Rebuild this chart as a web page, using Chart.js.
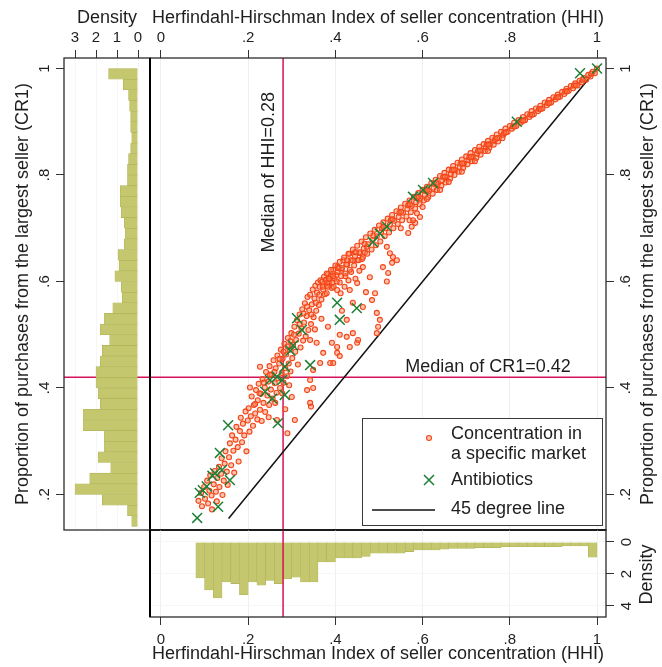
<!DOCTYPE html>
<html>
<head>
<meta charset="utf-8">
<script src="https://cdn.jsdelivr.net/npm/chart.js@4.4.1/dist/chart.umd.min.js"></script>
<style>
  html, body { margin: 0; padding: 0; background: #fff; }
  #wrap { position: relative; width: 662px; height: 667px; overflow: hidden; }
  canvas { position: absolute; }
  #side { left: 0; top: 0; }
  #main { left: 140px; top: 0; }
  #bottom { left: 140px; top: 525px; }
</style>
</head>
<body>
<div id="wrap">
  <canvas id="side" width="152" height="535"></canvas>
  <canvas id="main" width="522" height="535"></canvas>
  <canvas id="bottom" width="522" height="142"></canvas>
</div>
<script>
/* ===== DATA ===== */
const hhiTicks = [0, 0.2, 0.4, 0.6, 0.8, 1];
const hhiTickLabels = ["0", ".2", ".4", ".6", ".8", "1"];
const cr1Ticks = [0.2, 0.4, 0.6, 0.8, 1];
const cr1TickLabels = [".2", ".4", ".6", ".8", "1"];
const sideDensityTicks = [0, 1, 2, 3];
const sideDensityLabels = ["0", "1", "2", "3"];
const bottomDensityTicks = [0, 2, 4];
const bottomDensityLabels = ["0", "2", "4"];

const medianHHI = 0.28;
const medianCR1 = 0.42;
const diagonalFrom = 0.155;
const diagonalTo = 1;

// CR1 histogram (bin midpoints, density)
const cr1Bins = [0.15, 0.17, 0.19, 0.21, 0.23, 0.25, 0.27, 0.29, 0.31, 0.33, 0.35, 0.37, 0.39, 0.41,
  0.43, 0.45, 0.47, 0.49, 0.51, 0.53, 0.55, 0.57, 0.59, 0.61, 0.63, 0.65, 0.67, 0.69, 0.71, 0.73,
  0.75, 0.77, 0.79, 0.81, 0.83, 0.85, 0.87, 0.89, 0.91, 0.93, 0.95, 0.97, 0.99];
const cr1Density = [0.3, 0.5, 1.7, 3.0, 2.3, 1.3, 1.9, 1.6, 1.6, 2.6, 2.6, 1.8, 1.9, 2.0,
  2.0, 1.8, 1.7, 1.35, 1.8, 1.6, 1.2, 0.75, 0.8, 1.1, 0.9, 0.95, 0.65, 0.6, 0.65, 0.8,
  0.85, 0.85, 0.5, 0.5, 0.45, 0.35, 0.3, 0.35, 0.35, 0.4, 0.45, 0.7, 1.4];

// HHI histogram (bin midpoints, density)
const hhiBins = [0.09, 0.11, 0.13, 0.15, 0.17, 0.19, 0.21, 0.23, 0.25, 0.27, 0.29, 0.31, 0.33, 0.35,
  0.37, 0.39, 0.41, 0.43, 0.45, 0.47, 0.49, 0.51, 0.53, 0.55, 0.57, 0.59, 0.61, 0.63, 0.65, 0.67,
  0.69, 0.71, 0.73, 0.75, 0.77, 0.79, 0.81, 0.83, 0.85, 0.87, 0.89, 0.91, 0.93, 0.95, 0.97, 0.99];
const hhiDensity = [2.25, 3.0, 3.5, 2.5, 2.6, 3.3, 2.5, 2.7, 2.4, 2.6, 2.3, 2.2, 2.5, 2.5,
  1.25, 1.25, 1.0, 1.0, 1.0, 0.9, 0.7, 0.7, 0.7, 0.7, 0.6, 0.5, 0.5, 0.5, 0.45, 0.4,
  0.4, 0.4, 0.35, 0.35, 0.35, 0.3, 0.3, 0.3, 0.3, 0.3, 0.3, 0.3, 0.25, 0.25, 0.25, 0.95];

// markets: [HHI, CR1]
const marketPoints = [
  [0.086,0.188],[0.092,0.203],[0.094,0.178],[0.099,0.214],[0.101,0.192],[0.106,0.226],[0.108,0.183],[0.111,0.207],
  [0.113,0.236],[0.116,0.198],[0.117,0.172],[0.121,0.219],[0.123,0.244],[0.126,0.205],[0.128,0.187],[0.129,0.231],
  [0.133,0.252],[0.134,0.214],[0.138,0.239],[0.139,0.268],[0.141,0.199],[0.144,0.226],[0.146,0.258],[0.148,0.281],
  [0.151,0.243],[0.153,0.218],[0.156,0.27],[0.158,0.296],[0.161,0.255],[0.163,0.311],[0.166,0.282],[0.168,0.241],
  [0.171,0.303],[0.173,0.327],[0.176,0.289],[0.178,0.262],[0.181,0.319],[0.183,0.344],[0.186,0.298],[0.188,0.333],
  [0.191,0.311],[0.194,0.356],[0.196,0.281],[0.199,0.339],
  [0.201,0.362],[0.203,0.318],[0.206,0.347],[0.208,0.384],[0.211,0.329],[0.213,0.368],[0.216,0.352],[0.218,0.396],
  [0.221,0.341],[0.222,0.377],[0.224,0.408],[0.227,0.359],[0.229,0.389],[0.231,0.338],[0.233,0.417],[0.235,0.372],
  [0.238,0.401],[0.239,0.355],[0.241,0.43],[0.244,0.386],[0.246,0.412],[0.248,0.368],[0.249,0.441],[0.252,0.397],
  [0.254,0.425],[0.256,0.38],[0.258,0.452],[0.261,0.409],[0.263,0.437],[0.265,0.391],[0.267,0.461],[0.269,0.418],
  [0.271,0.446],[0.273,0.4],[0.275,0.472],[0.277,0.428],[0.279,0.455],[0.281,0.41],[0.283,0.483],[0.285,0.437],
  [0.287,0.463],[0.289,0.422],[0.291,0.494],[0.293,0.446],[0.295,0.472],[0.297,0.431],[0.299,0.503],
  [0.204,0.401],[0.227,0.44],[0.266,0.34],[0.29,0.315],[0.307,0.34],[0.285,0.36],[0.3,0.383],[0.262,0.372],
  [0.247,0.345],[0.278,0.39],[0.294,0.405],
  [0.301,0.456],[0.303,0.481],[0.306,0.515],[0.308,0.468],[0.31,0.49],[0.312,0.527],[0.314,0.444],[0.316,0.502],
  [0.318,0.538],[0.32,0.476],[0.322,0.512],[0.324,0.548],[0.326,0.489],[0.328,0.523],[0.33,0.559],[0.332,0.497],
  [0.334,0.535],[0.336,0.571],[0.338,0.509],[0.34,0.546],[0.342,0.575],[0.344,0.52],[0.346,0.557],[0.348,0.585],
  [0.35,0.533],[0.352,0.568],[0.354,0.592],[0.356,0.545],[0.358,0.579],[0.36,0.598],[0.362,0.556],[0.364,0.59],
  [0.366,0.602],[0.368,0.566],[0.37,0.6],[0.372,0.585],[0.374,0.609],[0.376,0.576],[0.378,0.603],[0.38,0.592],
  [0.383,0.614],[0.386,0.598],[0.389,0.61],[0.392,0.588],[0.395,0.622],[0.398,0.605],
  [0.318,0.52],[0.327,0.54],[0.335,0.553],[0.345,0.538],[0.355,0.56],[0.363,0.575],[0.371,0.59],[0.38,0.578],
  [0.387,0.605],[0.396,0.59],[0.305,0.5],[0.297,0.488],[0.29,0.478],[0.281,0.468],[0.272,0.455],[0.26,0.43],
  [0.25,0.425],[0.236,0.41],[0.226,0.39],[0.216,0.37],
  [0.342,0.49],[0.357,0.485],[0.372,0.466],[0.388,0.447],[0.365,0.447],[0.349,0.434],[0.342,0.415],[0.335,0.396],
  [0.349,0.4],[0.342,0.372],[0.344,0.365],[0.426,0.528],[0.433,0.477],[0.45,0.485],[0.452,0.49],[0.404,0.477],
  [0.404,0.466],[0.41,0.46],[0.395,0.447],[0.495,0.541],[0.502,0.528],[0.498,0.515],[0.495,0.503],[0.463,0.552],
  [0.484,0.565],[0.433,0.584],[0.404,0.584],[0.381,0.597],[0.45,0.597],[0.518,0.6],[0.44,0.503],[0.426,0.496],
  [0.392,0.485],[0.353,0.51],[0.368,0.53],[0.383,0.515],[0.415,0.545],[0.44,0.56],[0.47,0.58],[0.41,0.5],
  [0.518,0.665],[0.525,0.653],[0.532,0.646],[0.541,0.64],[0.53,0.635],[0.521,0.616],[0.509,0.627],[0.491,0.578],
  [0.479,0.608],[0.463,0.627],[0.45,0.64],[0.456,0.653],[0.472,0.665],[0.567,0.691],[0.575,0.703],[0.583,0.71],
  [0.594,0.721],[0.587,0.728],[0.578,0.715],
  [0.402,0.612],[0.405,0.628],[0.41,0.598],[0.414,0.622],[0.418,0.64],[0.423,0.61],[0.427,0.632],[0.432,0.652],
  [0.436,0.618],[0.44,0.64],[0.445,0.655],[0.412,0.578],[0.421,0.59],[0.43,0.602],[0.446,0.605],[0.455,0.62],
  [0.461,0.642],[0.468,0.655],
  // upper band
  [0.38,0.615],[0.385,0.605],[0.383,0.59],[0.39,0.622],[0.395,0.61],[0.393,0.598],[0.40,0.63],[0.405,0.618],
  [0.403,0.60],[0.41,0.637],[0.415,0.625],[0.413,0.61],[0.42,0.645],[0.425,0.632],[0.423,0.615],[0.43,0.652],
  [0.435,0.64],[0.433,0.622],[0.44,0.66],[0.445,0.648],[0.443,0.63],[0.45,0.667],[0.455,0.655],[0.453,0.64],
  [0.46,0.675],[0.465,0.662],[0.463,0.645],[0.47,0.683],[0.475,0.67],[0.473,0.652],[0.48,0.69],[0.485,0.678],
  [0.483,0.66],[0.49,0.697],[0.495,0.685],[0.493,0.668],[0.50,0.705],[0.505,0.693],[0.503,0.675],[0.51,0.711],
  [0.515,0.70],[0.513,0.685],[0.52,0.718],[0.525,0.707],[0.523,0.692],[0.53,0.725],[0.535,0.714],[0.533,0.70],
  [0.54,0.732],[0.545,0.721],[0.543,0.708],[0.55,0.739],[0.555,0.729],[0.553,0.715],[0.56,0.746],[0.565,0.736],
  [0.563,0.722],[0.57,0.752],[0.575,0.742],[0.573,0.73],[0.58,0.759],[0.585,0.749],[0.583,0.737],[0.59,0.766],
  [0.595,0.756],[0.593,0.745],[0.60,0.772],[0.605,0.763],[0.603,0.752],[0.61,0.778],[0.615,0.77],[0.613,0.758],
  [0.62,0.785],[0.625,0.776],[0.623,0.765],[0.63,0.791],[0.635,0.783],[0.633,0.772],[0.64,0.798],[0.645,0.79],
  [0.643,0.78],[0.65,0.804],[0.655,0.796],[0.653,0.786],[0.66,0.81],[0.665,0.802],[0.663,0.793],[0.67,0.817],
  [0.675,0.809],[0.673,0.80],[0.68,0.823],[0.685,0.815],[0.683,0.806],[0.69,0.829],[0.695,0.821],[0.693,0.813],
  [0.70,0.835],[0.705,0.828],[0.703,0.82],[0.71,0.841],[0.715,0.834],[0.713,0.826],[0.72,0.847],[0.725,0.84],
  [0.723,0.832],[0.73,0.853],[0.735,0.846],[0.733,0.838],[0.74,0.858],[0.745,0.852],[0.743,0.845],[0.75,0.864],
  [0.755,0.858],[0.753,0.851],[0.76,0.87],[0.765,0.864],[0.763,0.857],[0.77,0.876],[0.775,0.87],[0.773,0.863],
  [0.78,0.881],[0.785,0.875],[0.783,0.869],[0.79,0.887],[0.795,0.881],[0.80,0.892],[0.805,0.887],[0.81,0.898],
  [0.815,0.892],[0.82,0.903],[0.825,0.898],[0.83,0.909],[0.835,0.903],[0.84,0.914],[0.845,0.909],[0.85,0.92],
  [0.855,0.914],[0.86,0.925],[0.865,0.92],[0.87,0.93],[0.875,0.925],[0.88,0.936],[0.885,0.931],[0.89,0.941],
  [0.895,0.936],[0.90,0.946],[0.905,0.942],[0.91,0.951],[0.915,0.947],[0.92,0.956],[0.925,0.952],[0.93,0.962],
  [0.935,0.958],[0.94,0.967],[0.945,0.963],[0.95,0.972],[0.955,0.968],[0.96,0.977],[0.965,0.974],[0.97,0.982],
  [0.975,0.979],[0.98,0.988],[0.985,0.985],[0.99,0.994],[0.995,0.991],[1,1],
  [0.407,0.625],[0.427,0.64],[0.447,0.655],[0.467,0.671],[0.487,0.686],[0.507,0.7],[0.527,0.715],[0.547,0.729],
  [0.567,0.743],[0.587,0.757],[0.607,0.77],[0.627,0.783],[0.647,0.796],[0.667,0.809],[0.687,0.821],[0.707,0.833],
  [0.727,0.845],[0.747,0.857],[0.767,0.868],[0.787,0.879],[0.807,0.891],[0.827,0.902],[0.847,0.913],[0.867,0.924],
  [0.887,0.935],[0.907,0.946],[0.927,0.957],[0.947,0.968],[0.967,0.979],[0.987,0.99],
  [0.61,0.755],[0.64,0.772],[0.66,0.787],[0.69,0.806],[0.72,0.826],[0.75,0.845],[0.55,0.70],[0.57,0.715],[0.6,0.74],
  [0.511,0.703],[0.531,0.717],[0.551,0.731],[0.571,0.745],[0.591,0.759],[0.611,0.772],[0.631,0.785],[0.651,0.797],
  [0.671,0.81],[0.691,0.822],[0.711,0.834],[0.731,0.846],[0.751,0.857],[0.771,0.869],[0.791,0.88],[0.811,0.891],
  [0.831,0.902],[0.851,0.913],[0.871,0.924],[0.891,0.935],[0.911,0.946],[0.931,0.957],[0.951,0.968]
];

// antibiotics markets: [HHI, CR1]
const antibioticPoints = [
  [0.083,0.156],[0.089,0.203],[0.096,0.208],[0.105,0.215],[0.118,0.235],[0.124,0.24],[0.14,0.246],[0.135,0.278],
  [0.158,0.227],[0.131,0.177],[0.154,0.33],[0.239,0.393],[0.25,0.415],[0.255,0.38],[0.266,0.421],[0.278,0.415],
  [0.284,0.387],[0.284,0.44],[0.268,0.334],[0.297,0.47],[0.303,0.48],[0.312,0.531],[0.323,0.509],[0.342,0.443],
  [0.404,0.56],[0.41,0.528],[0.449,0.55],[0.486,0.674],[0.502,0.69],[0.518,0.703],[0.578,0.759],[0.601,0.772],
  [0.624,0.785],[0.816,0.9],[0.961,0.991],[1,1]
];

/* ===== AXIS RANGES ===== */
const HHI_MIN = -0.0252, HHI_MAX = 1.0206;
const CR1_MIN = 0.1333, CR1_MAX = 1.0197;

/* ===== STYLE ===== */
const FONT = '"Liberation Sans", Arial, Helvetica, sans-serif';
const tickFont = { family: FONT, size: 15 };
const titleFont = { family: FONT, size: 18 };
const INK = "#1e1e1e";
const RED_LINE = "#d6125a";
const HIST_FILL = "#c5c76f";
const HIST_EDGE = "#b0b356";
const GREEN = "#1d7f35";
const ORANGE = "#f2461a";
const ORANGE_FILL = "rgba(255,120,70,0.45)";
const FAINT = "#efefef";

/* ===== HELPERS ===== */
const toXY = pts => pts.map(p => ({ x: p[0], y: p[1] }));

function fixedTicks(values) {
  return s => { s.ticks = values.map(v => ({ value: v })); };
}

function fixSize(prop, size) {
  return s => {
    s[prop] = size;
    s.paddingLeft = s.paddingRight = s.paddingTop = s.paddingBottom = 0;
  };
}

function tickOpts(labels, extra) {
  return Object.assign({
    font: tickFont, color: INK, autoSkip: false,
    callback: (v, i) => labels[i]
  }, extra);
}

function gridOpts(color, onChart) {
  return { color, drawOnChartArea: onChart, tickColor: "#333", tickLength: 8, lineWidth: 1 };
}

function frame(ctx, a) {
  ctx.save();
  ctx.strokeStyle = "#2b2b2b";
  ctx.lineWidth = 1.3;
  ctx.strokeRect(a.left, a.top, a.right - a.left, a.bottom - a.top);
  ctx.restore();
}

function edge(ctx, x1, y1, x2, y2) {
  ctx.save();
  ctx.strokeStyle = "#000";
  ctx.lineWidth = 2;
  ctx.beginPath();
  ctx.moveTo(x1, y1);
  ctx.lineTo(x2, y2);
  ctx.stroke();
  ctx.restore();
}

function upText(ctx, text, x, y) {
  ctx.save();
  ctx.translate(x, y);
  ctx.rotate(-Math.PI / 2);
  ctx.font = `18px ${FONT}`;
  ctx.fillStyle = INK;
  ctx.textAlign = "center";
  ctx.textBaseline = "middle";
  ctx.fillText(text, 0, 0);
  ctx.restore();
}

function redLine(ctx, x1, y1, x2, y2) {
  ctx.save();
  ctx.strokeStyle = RED_LINE;
  ctx.lineWidth = 1.5;
  ctx.beginPath();
  ctx.moveTo(x1, y1);
  ctx.lineTo(x2, y2);
  ctx.stroke();
  ctx.restore();
}

const baseOptions = {
  responsive: false,
  animation: false,
  events: [],
  plugins: { legend: { display: false }, tooltip: { enabled: false } }
};

/* ===== MAIN SCATTER ===== */
const mainDecor = {
  id: "mainDecor",
  beforeDatasetsDraw(chart) {
    const { ctx, chartArea: a, scales: { x, y } } = chart;
    const mx = x.getPixelForValue(medianHHI);
    const my = y.getPixelForValue(medianCR1);
    redLine(ctx, mx, a.top, mx, a.bottom);
    redLine(ctx, a.left, my, a.right, my);
  },
  afterDatasetsDraw(chart) {
    const { ctx, chartArea: a, scales: { x, y } } = chart;

    // median labels
    upText(ctx, "Median of HHI=0.28", x.getPixelForValue(medianHHI) - 14, y.getPixelForValue(0.805));
    ctx.save();
    ctx.font = `18px ${FONT}`;
    ctx.fillStyle = INK;
    ctx.textAlign = "right";
    ctx.textBaseline = "middle";
    ctx.fillText("Median of CR1=0.42", x.getPixelForValue(0.94), y.getPixelForValue(medianCR1) - 10);
    ctx.restore();

    // legend box
    const bx = a.right - 244, by = a.bottom - 112, bw = 240, bh = 107;
    ctx.save();
    ctx.fillStyle = "#fff";
    ctx.strokeStyle = "#3a3a3a";
    ctx.lineWidth = 1;
    ctx.fillRect(bx, by, bw, bh);
    ctx.strokeRect(bx + 0.5, by + 0.5, bw, bh);

    const mx = bx + 67, tx = bx + 89;
    ctx.beginPath();
    ctx.arc(mx, by + 20, 2.5, 0, Math.PI * 2);
    ctx.fillStyle = ORANGE_FILL;
    ctx.fill();
    ctx.strokeStyle = ORANGE;
    ctx.lineWidth = 1.1;
    ctx.stroke();

    ctx.strokeStyle = GREEN;
    ctx.lineWidth = 1.5;
    ctx.beginPath();
    ctx.moveTo(mx - 5, by + 57); ctx.lineTo(mx + 5, by + 67);
    ctx.moveTo(mx - 5, by + 67); ctx.lineTo(mx + 5, by + 57);
    ctx.stroke();

    ctx.strokeStyle = "#111";
    ctx.lineWidth = 1.5;
    ctx.beginPath();
    ctx.moveTo(bx + 10, by + 92); ctx.lineTo(bx + 73, by + 92);
    ctx.stroke();

    ctx.font = `18px ${FONT}`;
    ctx.fillStyle = INK;
    ctx.textAlign = "left";
    ctx.textBaseline = "middle";
    ctx.fillText("Concentration in", tx, by + 16);
    ctx.fillText("a specific market", tx, by + 36);
    ctx.fillText("Antibiotics", tx, by + 62);
    ctx.fillText("45 degree line", tx, by + 91);
    ctx.restore();

    frame(ctx, a);
    edge(ctx, a.left, a.top, a.left, a.bottom);
    edge(ctx, a.left, a.bottom, a.right, a.bottom);

    upText(ctx, "Proportion of purchases from the largest seller (CR1)", a.right + 42, (a.top + a.bottom) / 2);
  }
};

new Chart(document.getElementById("main"), {
  type: "scatter",
  data: {
    datasets: [
      {
        label: "Antibiotics",
        data: toXY(antibioticPoints),
        pointStyle: "crossRot",
        pointRadius: 7,
        pointBorderWidth: 1.5,
        pointBorderColor: GREEN,
        pointBackgroundColor: GREEN,
        order: 0
      },
      {
        label: "Concentration in a specific market",
        data: toXY(marketPoints),
        pointStyle: "circle",
        pointRadius: 2.5,
        pointBorderWidth: 1.1,
        pointBorderColor: ORANGE,
        pointBackgroundColor: ORANGE_FILL,
        order: 1
      },
      {
        label: "45 degree line",
        data: [{ x: diagonalFrom, y: diagonalFrom }, { x: diagonalTo, y: diagonalTo }],
        showLine: true,
        borderColor: "#111",
        borderWidth: 1.5,
        pointRadius: 0,
        order: 2
      }
    ]
  },
  options: Object.assign({}, baseOptions, {
    layout: { autoPadding: false, padding: { left: 10, bottom: 5, top: 0, right: 0 } },
    scales: {
      x: {
        type: "linear", position: "top", min: HHI_MIN, max: HHI_MAX,
        afterBuildTicks: fixedTicks(hhiTicks), afterFit: fixSize("height", 58),
        ticks: tickOpts(hhiTickLabels, { padding: 3, maxRotation: 0, minRotation: 0 }),
        grid: gridOpts(FAINT, true),
        border: { display: false },
        title: { display: true, text: "Herfindahl-Hirschman Index of seller concentration (HHI)",
                 font: titleFont, color: INK, padding: { top: 7, bottom: 0 } }
      },
      y: {
        type: "linear", position: "right", min: CR1_MIN, max: CR1_MAX,
        afterBuildTicks: fixedTicks(cr1Ticks), afterFit: fixSize("width", 56),
        ticks: tickOpts(cr1TickLabels, { padding: 6, minRotation: 90, maxRotation: 90, crossAlign: "center" }),
        grid: gridOpts(FAINT, false),
        border: { display: false }
      }
    }
  }),
  plugins: [mainDecor]
});

/* ===== CR1 HISTOGRAM (left) ===== */
const sideDecor = {
  id: "sideDecor",
  beforeDatasetsDraw(chart) {
    const { ctx, chartArea: a, scales: { y } } = chart;
    const my = y.getPixelForValue(medianCR1);
    redLine(ctx, a.left, my, a.right, my);
  },
  afterDatasetsDraw(chart) {
    const { ctx, chartArea: a } = chart;
    frame(ctx, a);
    edge(ctx, a.right, a.top, a.right, a.bottom + 1);
  }
};

new Chart(document.getElementById("side"), {
  type: "bar",
  data: {
    datasets: [{
      data: cr1Bins.map((c, i) => ({ x: cr1Density[i], y: c })),
      backgroundColor: HIST_FILL,
      borderColor: HIST_EDGE,
      borderWidth: 0.6,
      barPercentage: 1,
      categoryPercentage: 1
    }]
  },
  options: Object.assign({}, baseOptions, {
    indexAxis: "y",
    layout: { autoPadding: false, padding: { left: 0, bottom: 5, top: 0, right: 2 } },
    scales: {
      x: {
        type: "linear", position: "top", reverse: true, min: -0.571, max: 3.524,
        afterBuildTicks: fixedTicks(sideDensityTicks), afterFit: fixSize("height", 58),
        ticks: tickOpts(sideDensityLabels, { padding: 3, maxRotation: 0, minRotation: 0 }),
        grid: gridOpts("#f6f6f6", true),
        border: { display: false },
        title: { display: true, text: "Density", font: titleFont, color: INK, padding: { top: 7, bottom: 0 } }
      },
      y: {
        type: "linear", position: "left", offset: false, min: CR1_MIN, max: CR1_MAX,
        afterBuildTicks: fixedTicks(cr1Ticks), afterFit: fixSize("width", 64),
        ticks: tickOpts(cr1TickLabels, { padding: 5, minRotation: 90, maxRotation: 90, crossAlign: "center" }),
        grid: Object.assign(gridOpts(FAINT, false), { offset: false }),
        border: { display: false },
        title: { display: true, text: "Proportion of purchases from the largest seller (CR1)",
                 font: titleFont, color: INK, padding: { top: 12, bottom: 0 } }
      }
    }
  }),
  plugins: [sideDecor]
});

/* ===== HHI HISTOGRAM (bottom) ===== */
const bottomDecor = {
  id: "bottomDecor",
  afterDatasetsDraw(chart) {
    const { ctx, chartArea: a, scales: { x } } = chart;
    const mx = x.getPixelForValue(medianHHI);
    redLine(ctx, mx, a.top, mx, a.bottom);
    frame(ctx, a);
    edge(ctx, a.left, a.top, a.left, a.bottom);
    upText(ctx, "Density", a.right + 41, (a.top + a.bottom) / 2 + 1);
  }
};

new Chart(document.getElementById("bottom"), {
  type: "bar",
  data: {
    datasets: [{
      data: hhiBins.map((h, i) => ({ x: h, y: hhiDensity[i] })),
      backgroundColor: HIST_FILL,
      borderColor: HIST_EDGE,
      borderWidth: 0.6,
      barPercentage: 1,
      categoryPercentage: 1
    }]
  },
  options: Object.assign({}, baseOptions, {
    layout: { autoPadding: false, padding: { left: 10, top: 5, right: 0, bottom: 0 } },
    scales: {
      x: {
        type: "linear", position: "bottom", offset: false, min: HHI_MIN, max: HHI_MAX,
        afterBuildTicks: fixedTicks(hhiTicks), afterFit: fixSize("height", 50),
        ticks: tickOpts(hhiTickLabels, { padding: 6, maxRotation: 0, minRotation: 0 }),
        grid: Object.assign(gridOpts(FAINT, true), { offset: false }),
        border: { display: false },
        title: { display: true, text: "Herfindahl-Hirschman Index of seller concentration (HHI)",
                 font: titleFont, color: INK, padding: { top: 0, bottom: 2 } }
      },
      y: {
        type: "linear", position: "right", reverse: true, min: -0.75, max: 4.69,
        afterBuildTicks: fixedTicks(bottomDensityTicks), afterFit: fixSize("width", 56),
        ticks: tickOpts(bottomDensityLabels, { padding: 9, minRotation: 90, maxRotation: 90, crossAlign: "center" }),
        grid: gridOpts("#f6f6f6", true),
        border: { display: false }
      }
    }
  }),
  plugins: [bottomDecor]
});
</script>
</body>
</html>
